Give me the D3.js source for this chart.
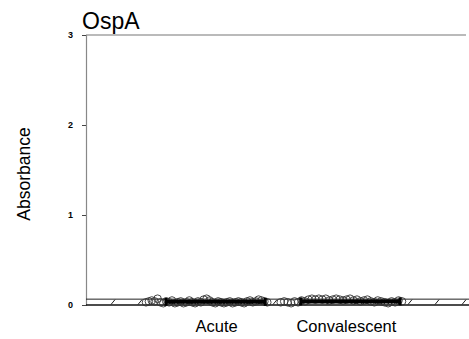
<!DOCTYPE html>
<html>
<head>
<meta charset="utf-8">
<script src="https://cdn.jsdelivr.net/npm/d3@7"></script>
<style>
  body { margin: 0; background: #fff; }
  svg { font-family: Arial, 'Liberation Sans', sans-serif; }
</style>
</head>
<body>
<div id="chart"></div>
<script>
// OspA absorbance, acute vs convalescent sera

const groups = ['Acute', 'Convalescent']
const yTicks = [0, 1, 2, 3]
const cutoffBand = [0, 0.065]

const acuteValues = [
  0.03, 0.04, 0.05, 0.04, 0.07, 0.03, 0.02, 0.04, 0.03, 0.05,
  0.02, 0.03, 0.04, 0.02, 0.03, 0.05, 0.03, 0.02, 0.04, 0.03,
  0.06, 0.07, 0.05, 0.03, 0.02, 0.04, 0.03, 0.02, 0.03, 0.04,
  0.02, 0.03, 0.04, 0.03, 0.02, 0.04, 0.05, 0.03, 0.04, 0.06,
  0.05, 0.04, 0.03
]
const convalescentValues = [
  0.03, 0.04, 0.03, 0.02, 0.04, 0.03, 0.05, 0.04, 0.06, 0.07,
  0.06, 0.07, 0.06, 0.07, 0.05, 0.06, 0.07, 0.06, 0.05, 0.06,
  0.07, 0.05, 0.06, 0.04, 0.05, 0.06, 0.04, 0.03, 0.05, 0.04,
  0.03, 0.02, 0.04, 0.03, 0.05, 0.04
]
const groupMeans = [0.035, 0.04]

const width = 469
const height = 339
const margin = { top: 35, right: 3, bottom: 34, left: 86 }

const svg = d3.select('#chart').append('svg')
  .attr('width', width)
  .attr('height', height)

const y = d3.scaleLinear()
  .domain([0, 3])
  .range([height - margin.bottom, margin.top])

const x = d3.scaleBand()
  .domain(groups)
  .range([margin.left + 60, margin.left + 316])
  .paddingInner(0.1)

// Frame lines
svg.append('line')
  .attr('x1', margin.left).attr('x2', width - margin.right)
  .attr('y1', y(3)).attr('y2', y(3))
  .attr('stroke', '#777').attr('stroke-width', 1.2)

svg.append('g')
  .attr('transform', `translate(${margin.left},0)`)
  .call(d3.axisLeft(y).tickValues(yTicks).tickSize(4).tickFormat(d3.format('d')))
  .call(g => g.select('.domain').attr('stroke', '#888').attr('stroke-width', 1.2))
  .call(g => g.selectAll('.tick line').attr('stroke', '#444'))
  .call(g => g.selectAll('text')
    .attr('font-size', '9px')
    .attr('font-weight', 'bold')
    .attr('fill', '#000')
    .attr('dx', '-6px'))

// Cut-off band with hatch marks
const bandTop = y(cutoffBand[1])
const bandBottom = y(cutoffBand[0])
svg.append('line')
  .attr('x1', margin.left).attr('x2', width)
  .attr('y1', bandTop).attr('y2', bandTop)
  .attr('stroke', '#222').attr('stroke-width', 1)
svg.append('line')
  .attr('x1', margin.left).attr('x2', width)
  .attr('y1', bandBottom).attr('y2', bandBottom)
  .attr('stroke', '#111').attr('stroke-width', 1.4)

const hatch = d3.range(margin.left + 27, width, 27)
svg.selectAll('.hatch')
  .data(hatch)
  .enter()
  .append('line')
  .classed('hatch', true)
  .attr('x1', d => d - 2).attr('x2', d => d + 2)
  .attr('y1', bandBottom - 0.5).attr('y2', bandTop + 0.5)
  .attr('stroke', '#222').attr('stroke-width', 1)

// Points
const labelShift = [10, 5]
const series = [acuteValues, convalescentValues]
series.forEach((values, gi) => {
  const group = groups[gi]
  const px = d3.scalePoint()
    .domain(d3.range(values.length))
    .range([x(group), x(group) + x.bandwidth()])

  svg.append('g').selectAll('circle')
    .data(values)
    .enter()
    .append('circle')
    .attr('cx', (d, i) => px(i))
    .attr('cy', d => y(d))
    .attr('r', 3.8)
    .attr('fill', 'none')
    .attr('stroke', '#333')
    .attr('stroke-width', 0.9)

  // Mean bar with end caps
  const x0 = x(group) + 20
  const x1 = x(group) + x.bandwidth() - 2
  const my = y(groupMeans[gi])
  svg.append('line')
    .attr('x1', x0).attr('x2', x1)
    .attr('y1', my).attr('y2', my)
    .attr('stroke', '#000').attr('stroke-width', 4)
  ;[x0, x1].forEach(cx => {
    svg.append('line')
      .attr('x1', cx).attr('x2', cx)
      .attr('y1', my - 4).attr('y2', my + 4)
      .attr('stroke', '#000').attr('stroke-width', 3)
  })

  svg.append('text')
    .attr('x', x(group) + x.bandwidth() / 2 + labelShift[gi])
    .attr('y', 332)
    .attr('text-anchor', 'middle')
    .attr('font-size', '16.5px')
    .attr('fill', '#000')
    .text(group)
})

// Title and axis label
svg.append('text')
  .attr('x', 82)
  .attr('y', 29)
  .attr('font-size', '23px')
  .attr('fill', '#000')
  .text('OspA')

svg.append('text')
  .attr('transform', 'translate(30, 174) rotate(-90)')
  .attr('text-anchor', 'middle')
  .attr('font-size', '17.5px')
  .attr('fill', '#000')
  .text('Absorbance')
</script>
</body>
</html>
